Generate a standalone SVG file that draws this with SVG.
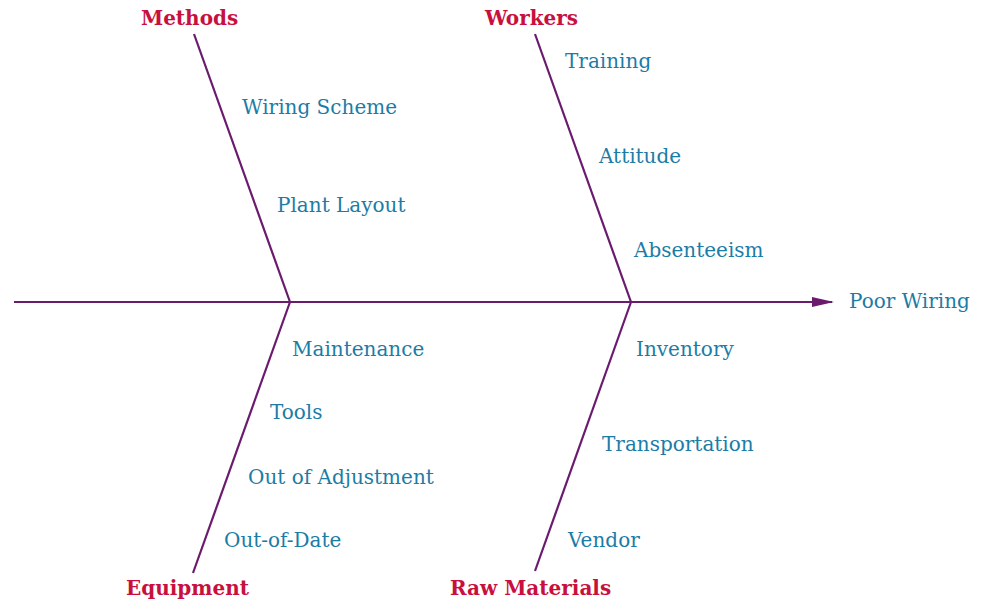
<svg xmlns="http://www.w3.org/2000/svg" width="989" height="615" viewBox="0 0 989 615">
<style>
.ln{stroke:#6a1b6e;stroke-width:2.2;fill:none}
.cat{font-family:"DejaVu Serif","Liberation Serif",serif;font-weight:bold;font-size:20px;fill:#c8103e}
.lbl{font-family:"DejaVu Serif","Liberation Serif",serif;font-size:20px;fill:#1b7ca6}
</style>
<defs>
<marker id="ah" viewBox="0 0 22 10" refX="20" refY="5" markerWidth="22" markerHeight="10" markerUnits="userSpaceOnUse" orient="auto">
<path d="M0,0 L22,5 L0,10 z" fill="#6a1b6e"/>
</marker>
</defs>
<g id="connectors">
<line class="ln" x1="14" y1="302" x2="832" y2="302" marker-end="url(#ah)"/>
<line class="ln" x1="194" y1="34" x2="290" y2="302"/>
<line class="ln" x1="535" y1="34" x2="631" y2="302"/>
<line class="ln" x1="290" y1="302" x2="193" y2="573"/>
<line class="ln" x1="631" y1="302" x2="535" y2="571"/>
</g>
<g id="methods"><text class="cat" x="141" y="25">Methods</text></g>
<g id="workers"><text class="cat" x="485" y="25">Workers</text></g>
<g id="equipment"><text class="cat" x="126" y="595">Equipment</text></g>
<g id="raw-materials"><text class="cat" x="450" y="595">Raw Materials</text></g>
<g id="effect"><text class="lbl" x="849" y="308">Poor Wiring</text></g>
<g id="wiring-scheme"><text class="lbl" x="242" y="114">Wiring Scheme</text></g>
<g id="plant-layout"><text class="lbl" x="277" y="212">Plant Layout</text></g>
<g id="training"><text class="lbl" x="565" y="68">Training</text></g>
<g id="attitude"><text class="lbl" x="599" y="163">Attitude</text></g>
<g id="absenteeism"><text class="lbl" x="634" y="257">Absenteeism</text></g>
<g id="maintenance"><text class="lbl" x="292" y="356">Maintenance</text></g>
<g id="tools"><text class="lbl" x="270" y="419">Tools</text></g>
<g id="out-of-adjustment"><text class="lbl" x="248" y="484">Out of Adjustment</text></g>
<g id="out-of-date"><text class="lbl" x="224" y="547">Out-of-Date</text></g>
<g id="inventory"><text class="lbl" x="636" y="356">Inventory</text></g>
<g id="transportation"><text class="lbl" x="602" y="451">Transportation</text></g>
<g id="vendor"><text class="lbl" x="568" y="547">Vendor</text></g>
</svg>
